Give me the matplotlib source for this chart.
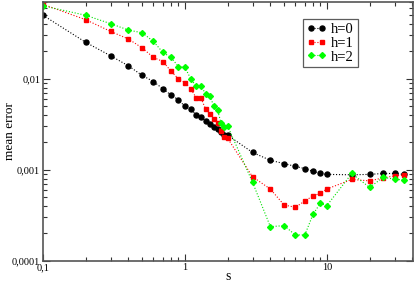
import matplotlib
matplotlib.use("Agg")
import matplotlib.pyplot as plt
from matplotlib.ticker import FixedLocator, LogLocator, NullFormatter

s = [0.1, 0.2, 0.3, 0.4, 0.5, 0.6, 0.7, 0.8, 0.9, 1.0,
     1.1, 1.2, 1.3, 1.4, 1.5, 1.6, 1.7, 1.8, 1.9, 2.0,
     3, 4, 5, 6, 7, 8, 9, 10, 15, 20, 25, 30, 35]

h0 = [0.050, 0.0252, 0.0179, 0.0139, 0.0109, 0.00934, 0.00777, 0.00662, 0.00589, 0.00497,
      0.00461, 0.00403, 0.00377, 0.00343, 0.00316, 0.00293, 0.0028, 0.0026, 0.00242, 0.0024,
      0.00155, 0.00127, 0.00117, 0.00109, 0.00103, 0.00096, 0.00091, 0.00089,
      0.00088, 0.00089, 0.00091, 0.00091, 0.00089]

h1 = [0.066, 0.0447, 0.0332, 0.0274, 0.0219, 0.0172, 0.0155, 0.0121, 0.0100, 0.0091,
      0.00777, 0.0062, 0.0061, 0.00465, 0.00414, 0.00365, 0.00326, 0.00267, 0.00229, 0.00222,
      0.000836, 0.000614, 0.00041, 0.000387, 0.000453, 0.000518, 0.00055, 0.000614,
      0.000783, 0.000755, 0.000815, 0.000857, 0.00087]

h2 = [0.0635, 0.050, 0.0404, 0.0344, 0.0321, 0.0258, 0.0195, 0.0172, 0.0136, 0.0134,
      0.0100, 0.0083, 0.0083, 0.00685, 0.00652, 0.00497, 0.00450, 0.00326, 0.00295, 0.00303,
      0.000726, 0.000237, 0.000243, 0.000192, 0.000192, 0.000324, 0.000428, 0.000403,
      0.00091, 0.00064, 0.000824, 0.000789, 0.00077]

series_labels = ["h=0", "h=1", "h=2"]
xtick_vals = [0.1, 1, 10]
xtick_labels = ["0,1", "1", "10"]
ytick_vals = [1e-4, 1e-3, 1e-2]
ytick_labels = ["0,0001", "0,001", "0,01"]

plt.rcParams['font.family'] = ['Liberation Serif', 'DejaVu Serif']

fig = plt.figure(figsize=(4.15, 2.85), dpi=100)
ax = fig.add_axes([43/415, 1 - 260.7/285, 370/415, 258.7/285])

ax.plot(s, h0, linestyle=':', color='black', lw=0.8, marker='o', ms=3.6,
        mec='black', mfc='black', label=series_labels[0])
ax.plot(s, h1, linestyle=':', color='#ff0000', lw=0.8, marker='s', ms=3.4,
        mec='#ff0000', mfc='#ff0000', label=series_labels[1])
ax.plot(s, h2, linestyle=':', color='#00e000', lw=0.8, marker='D', ms=3.0,
        mec='#00ff00', mfc='#00ff00', label=series_labels[2])

ax.set_xscale('log')
ax.set_yscale('log')
ax.set_xlim(0.1, 40.5)
ax.set_ylim(1e-4, 0.07)

ax.xaxis.set_major_locator(FixedLocator(xtick_vals))
ax.set_xticklabels(xtick_labels)
ax.yaxis.set_major_locator(FixedLocator(ytick_vals))
ax.set_yticklabels(ytick_labels)
ax.xaxis.set_minor_locator(LogLocator(base=10, subs=range(2, 10)))
ax.yaxis.set_minor_locator(LogLocator(base=10, subs=range(2, 10)))
ax.xaxis.set_minor_formatter(NullFormatter())
ax.yaxis.set_minor_formatter(NullFormatter())

ax.tick_params(which='both', direction='in', top=True, right=True,
               labelsize=7.5, color='#333333', width=0.8, pad=2)
ax.tick_params(which='major', length=5)
ax.tick_params(which='minor', length=3)
for sp in ax.spines.values():
    sp.set_color('#555555')
    sp.set_linewidth(1.2)

ax.set_xlabel('s', fontsize=10)
ax.xaxis.set_label_coords(0.5, -0.035)
ax.set_ylabel('mean error', fontsize=9.5)
ax.yaxis.set_label_coords(-0.074, 0.5)

leg = ax.legend(loc='upper left', bbox_to_anchor=(0.702, 0.935), numpoints=2,
                fontsize=10.5, frameon=True, fancybox=False, borderpad=0.25,
                handlelength=1.4, handletextpad=0.3, labelspacing=0.05,
                borderaxespad=0)
leg.get_frame().set_edgecolor('#333333')
leg.get_frame().set_linewidth(0.9)

fig.savefig('out.png', dpi=100)
